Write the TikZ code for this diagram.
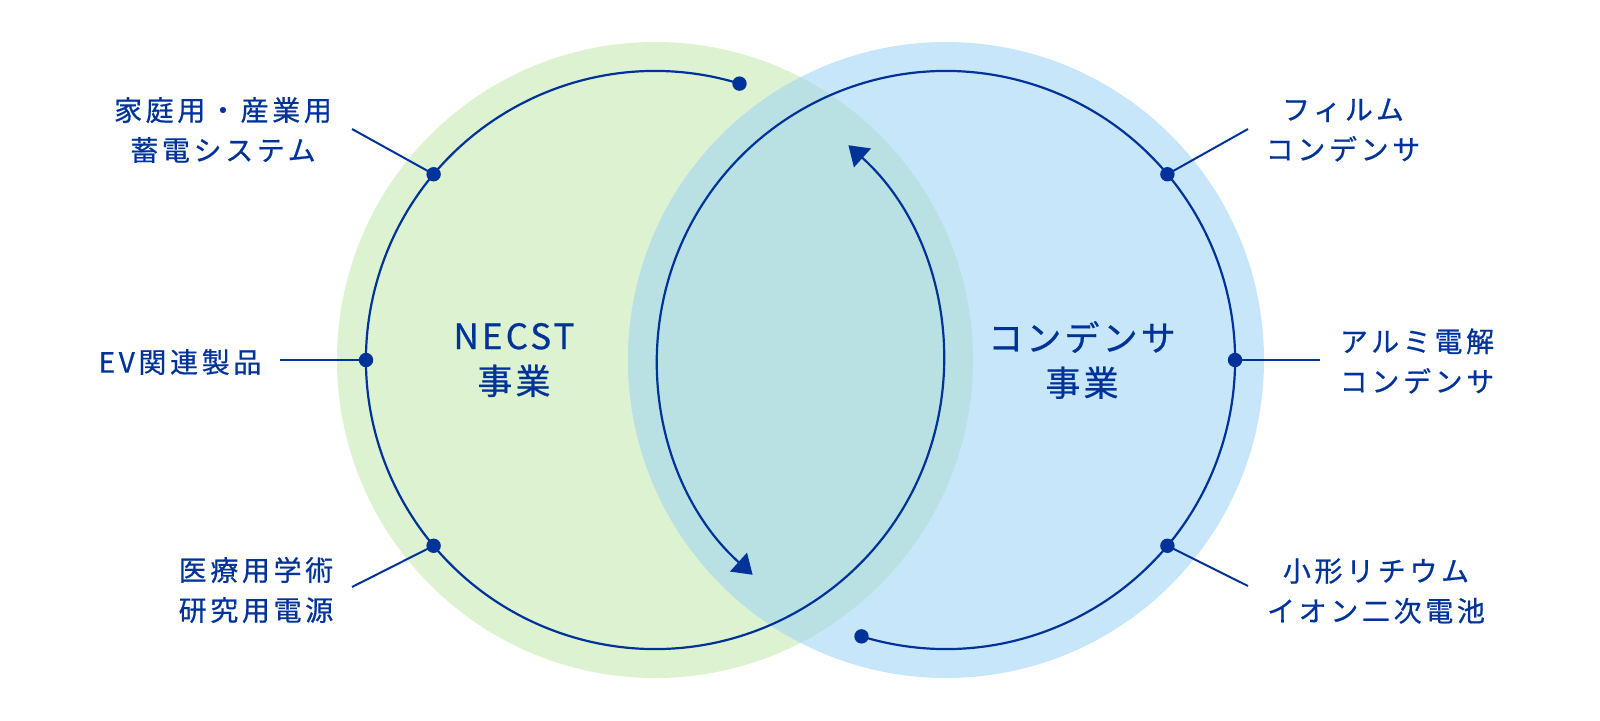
\documentclass[tikz,border=0pt]{standalone}
\usepackage{fontspec}
\setmainfont{Noto Sans CJK JP}
\newfontfamily\lblfont[LetterSpace=13,FakeBold=0.6]{Noto Sans CJK JP}
\newfontfamily\bizfont[LetterSpace=9,FakeBold=0.6]{Noto Sans CJK JP}
\usepackage{xcolor}
\usepackage{tikz}
\usetikzlibrary{calc,arrows.meta,positioning}
\definecolor{navy}{RGB}{0,51,153}
\definecolor{greenbg}{RGB}{221,242,208}
\definecolor{bluebg}{RGB}{200,230,250}
\definecolor{mixbg}{RGB}{185,225,228}

\tikzset{
  ring/.style={draw=navy, line width=1.1pt},
  flow/.style={ring, -{Triangle[length=9.5pt,width=12.5pt]}},
  dot/.style={circle, fill=navy, inner sep=0pt, minimum size=7.2pt},
  lead/.style={draw=navy, line width=1pt},
  lbl/.style={text=navy, align=center, font=\lblfont\fontsize{14}{20}\selectfont},
  biz/.style={text=navy, align=center, font=\bizfont\fontsize{17.5}{22.5}\selectfont},
}

\begin{document}
\begin{tikzpicture}[x=0.5pt,y=0.5pt]
\useasboundingbox (0,0) rectangle (1600,720);
\coordinate (gc) at (655,360);
\coordinate (bc) at (946,360);

% backgrounds
\fill[greenbg] (gc) circle (318);
\fill[bluebg] (bc) circle (318);
\begin{scope}
  \clip (gc) circle (318);
  \fill[mixbg] (bc) circle (318);
\end{scope}

% cycle arcs
\node[dot] (gs) at ($(gc)+(73:289)$) {};
\node[dot] (bs) at ($(bc)+(-107:289)$) {};
\draw[flow] (gs.center) arc[start angle=73, end angle=408, radius=289];
\draw[flow] (bs.center) arc[start angle=-107, end angle=228, radius=289];

\node[biz] (necst) at (514,360) {NECST\\事業};
\node[biz] (cond) at (1082,360) {コンデンサ\\事業};

% left side
\node[dot] (g1) at ($(gc)+(140:289)$) {};
\node[dot] (g2) at ($(gc)+(180:289)$) {};
\node[dot] (g3) at ($(gc)+(220:289)$) {};
\coordinate (e1) at (352,591);
\coordinate (e2) at (280,360);
\coordinate (e3) at (352,133);
\draw[lead] (g1.center) -- (e1);
\draw[lead] (g2.center) -- (e2);
\draw[lead] (g3.center) -- (e3);
\node[lbl] (home) at (223,590) {家庭用・産業用\\蓄電システム};
\node[lbl] (ev) at (180,358) {EV関連製品};
\node[lbl] (med) at (256,130) {医療用学術\\研究用電源};

% right side
\node[dot] (b1) at ($(bc)+(40:289)$) {};
\node[dot] (b2) at ($(bc)+(0:289)$) {};
\node[dot] (b3) at ($(bc)+(-40:289)$) {};
\coordinate (f1) at (1248,591);
\coordinate (f2) at (1320,360);
\coordinate (f3) at (1248,134);
\draw[lead] (b1.center) -- (f1);
\draw[lead] (b2.center) -- (f2);
\draw[lead] (b3.center) -- (f3);
\node[lbl] (film) at (1343,590) {フィルム\\コンデンサ};
\node[lbl] (alu) at (1417,359) {アルミ電解\\コンデンサ};
\node[lbl] (li) at (1376,129) {小形リチウム\\イオン二次電池};

\end{tikzpicture}
\end{document}
